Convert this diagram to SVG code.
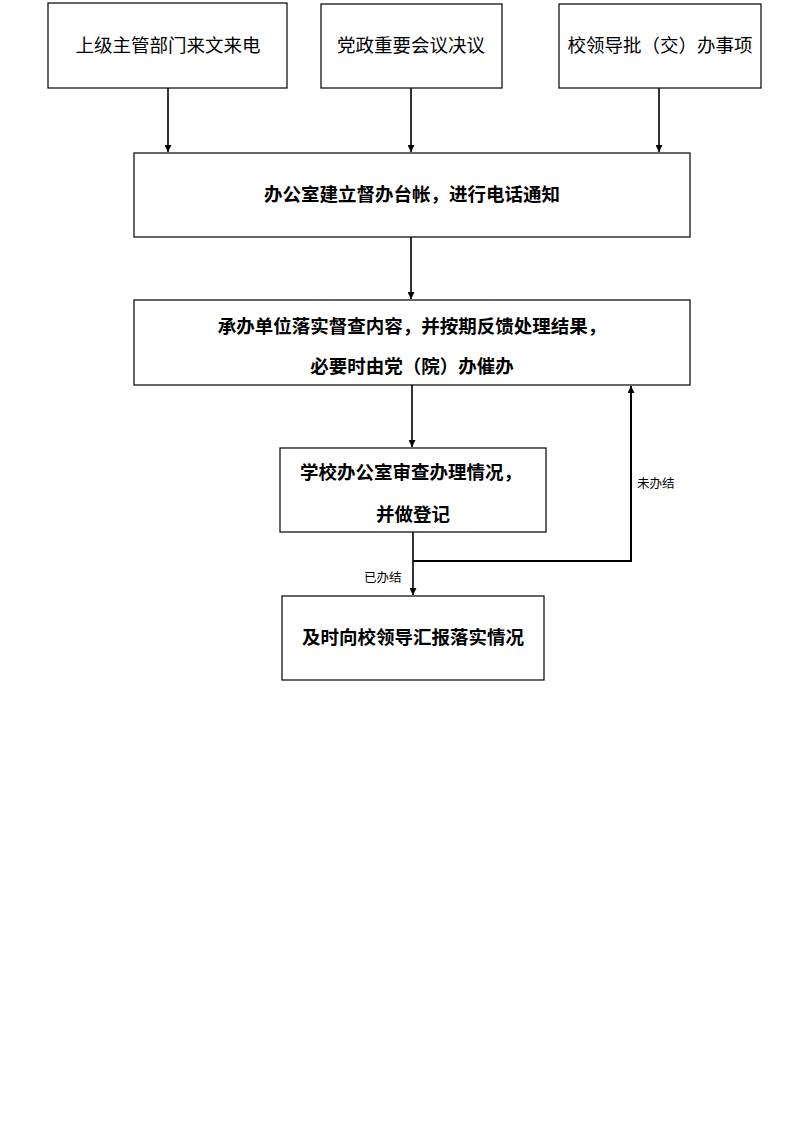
<svg xmlns="http://www.w3.org/2000/svg" width="793" height="1122" viewBox="0 0 793 1122">
<style>
.box{fill:#fff;stroke:#000;stroke-width:1.2}
.t{font-family:"Noto Sans CJK SC","Noto Sans CJK JP",sans-serif;font-size:18.5px;fill:#000;text-anchor:middle;dominant-baseline:central}
.b{font-weight:bold}
.lbl{font-family:"Noto Sans CJK SC",sans-serif;font-size:12.5px;fill:#000;dominant-baseline:central}
.c{fill:none;stroke:#000;stroke-width:1.6}
</style>
<defs>
<marker id="ah" viewBox="0 0 10 10" refX="10" refY="5" markerWidth="7" markerHeight="7" orient="auto" markerUnits="userSpaceOnUse">
<path d="M0,0 L10,5 L0,10 z" fill="#000"/>
</marker>
</defs>
<rect width="793" height="1122" fill="#fff"/>
<g id="connectors">
<line class="c" x1="168" y1="88" x2="168" y2="152" marker-end="url(#ah)"/>
<line class="c" x1="411" y1="88" x2="411" y2="152" marker-end="url(#ah)"/>
<line class="c" x1="659" y1="88" x2="659" y2="152" marker-end="url(#ah)"/>
<line class="c" x1="411" y1="237" x2="411" y2="299" marker-end="url(#ah)"/>
<line class="c" x1="412" y1="385" x2="412" y2="447" marker-end="url(#ah)"/>
<line class="c" x1="413" y1="532" x2="413" y2="595" marker-end="url(#ah)"/>
<polyline class="c" style="stroke-width:2" points="413,561 631,561 631,386" marker-end="url(#ah)"/>
<text class="lbl" x="637" y="482">未办结</text>
<text class="lbl" x="364" y="576">已办结</text>
</g>
<g id="n1"><rect class="box" x="48" y="3" width="239" height="85"/><text class="t" x="168" y="44">上级主管部门来文来电</text></g>
<g id="n2"><rect class="box" x="321" y="4" width="181" height="84"/><text class="t" x="411" y="44">党政重要会议决议</text></g>
<g id="n3"><rect class="box" x="559" y="4" width="202" height="84"/><text class="t" x="660" y="44">校领导批（交）办事项</text></g>
<g id="n4"><rect class="box" x="134" y="153" width="556" height="84"/><text class="t b" x="412" y="193">办公室建立督办台帐，进行电话通知</text></g>
<g id="n5"><rect class="box" x="134" y="300" width="556" height="85"/><text class="t b" x="412" y="325">承办单位落实督查内容，并按期反馈处理结果，</text><text class="t b" x="412" y="365">必要时由党（院）办催办</text></g>
<g id="n6"><rect class="box" x="280" y="448" width="266" height="84"/><text class="t b" x="411" y="471">学校办公室审查办理情况，</text><text class="t b" x="413" y="513">并做登记</text></g>
<g id="n7"><rect class="box" x="282" y="596" width="262" height="84"/><text class="t b" x="413" y="636">及时向校领导汇报落实情况</text></g>
</svg>
